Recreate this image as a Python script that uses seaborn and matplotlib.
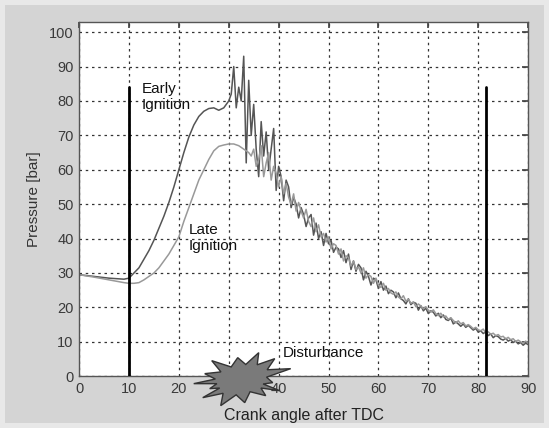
import numpy as np
import pandas as pd
import seaborn as sns
import matplotlib.pyplot as plt
from matplotlib.patches import Polygon

# smooth compression / combustion part
early_x_smooth = [0, 3, 6, 9, 10, 11, 12, 13, 14, 15, 16, 17, 18, 19, 20, 21, 22, 23, 24, 25, 26, 27, 28, 29, 30]
early_y_smooth = [29.5, 29.0, 28.5, 28.2, 28.5, 30, 31.5, 34, 36.5, 39.5, 43, 46.5, 50.5, 55, 60, 65, 69.5, 73, 75.5,
                  77, 77.8, 78, 77.3, 78, 80]
late_x_smooth = [0, 3, 6, 9, 10, 11, 12, 13, 14, 15, 16, 17, 18, 19, 20, 21, 22, 23, 24, 25, 26, 27, 28, 29, 30, 31,
                 32, 33, 33.5]
late_y_smooth = [29.5, 28.8, 28.0, 27.2, 27, 27, 27.2, 28, 29, 30, 31.5, 33.5, 35.5, 38, 40.5, 45, 49, 53, 57, 60, 63,
                 65.5, 66.8, 67.2, 67.5, 67.5, 67, 66, 65.5]

# noisy part, sampled every 0.5 deg (early from 30.5, late from 34)
early_y_noisy = [82, 90, 78, 84, 80, 93, 62, 86, 70, 79,
                 66, 58, 74, 64, 71, 60, 66, 72, 54, 61,
                 58, 51, 57, 55, 49, 52, 50, 46, 49, 47,
                 43.5, 46, 47, 41, 44.5, 40, 42, 38, 41.5, 38.5,
                 39.5, 36, 37.5, 37, 34.5, 36.5, 33, 35.5, 31, 33.5,
                 30.5, 32.5, 31.5, 28, 30.5, 29, 26.5, 28.5, 28, 25.5,
                 27.5, 25, 26.2, 24, 25, 24.5, 22.8, 24.2, 22.5, 22,
                 21, 22.5, 20.8, 21.5, 21.2, 19.2, 20.5, 19, 19.8, 18.2,
                 19, 18.6, 17.5, 18.3, 17, 17.8, 16.5, 16.2, 16.9, 15.2,
                 15.8, 15.2, 14.5, 15.2, 14.2, 14.8, 14.1, 13.4, 13.9, 12.8,
                 13.2, 12.4, 12.9, 11.8, 12.3, 11.2, 11.8, 11.5, 10.8, 10.5,
                 11, 10.2, 10.6, 9.8, 10.2, 9.4, 9.8, 9, 9.6, 9.2]
late_y_noisy = [65, 64, 66, 61, 63, 67, 58, 62, 65, 57,
                61, 59, 55, 58, 53, 56, 52, 50, 53, 48,
                50.5, 48, 46, 48.5, 45, 43.5, 46, 42, 44, 40.5,
                41.5, 39, 40.5, 37, 38.5, 38, 35.5, 37, 33.5, 35,
                34.5, 32, 33.5, 31, 31.8, 30, 31.5, 28.5, 29.5, 29,
                27, 28.5, 26.5, 25.8, 27, 25, 25.5, 24.2, 23.8, 24.5,
                23, 22.5, 23.4, 21.8, 22.4, 21.2, 21.6, 20.2, 21, 20.4,
                19.6, 20.2, 19.2, 18.6, 19.3, 18.2, 17.6, 18.3, 17.2, 17.5,
                16.5, 17, 16.2, 15.5, 16.1, 15.2, 15.6, 14.6, 15, 14.5,
                13.8, 14.2, 13.5, 13.2, 13.7, 12.6, 12.9, 12.2, 12.5, 11.8,
                12.1, 11.4, 11.6, 10.8, 11.3, 10.6, 10.9, 10.1, 10.5, 10,
                9.6, 10.2, 9.7]

early_x = early_x_smooth + list(np.arange(len(early_y_noisy)) * 0.5 + 30.5)
late_x = late_x_smooth + list(np.arange(len(late_y_noisy)) * 0.5 + 34.0)

df = pd.concat([
    pd.DataFrame({"angle": early_x, "pressure": early_y_smooth + early_y_noisy, "curve": "early"}),
    pd.DataFrame({"angle": late_x, "pressure": late_y_smooth + late_y_noisy, "curve": "late"}),
])

marker_angles = [10, 81.5]
marker_top = 84

sns.set_theme(style="white")
plt.rcParams['font.family'] = ['Liberation Sans', 'DejaVu Sans']

fig = plt.figure(figsize=(5.49, 4.28), dpi=100)
fig.patch.set_facecolor("#d4d4d4")
fig.patch.set_edgecolor("#e8e8e8")
fig.patch.set_linewidth(6)
ax = fig.add_axes([0.144, 0.121, 0.818, 0.828])
ax.set_facecolor("white")

sns.lineplot(data=df, x="angle", y="pressure", hue="curve", sort=False, estimator=None,
             palette={"early": "#555555", "late": "#999999"}, linewidth=1.1, legend=False, ax=ax)

for xa in marker_angles:
    ax.plot([xa, xa], [0, marker_top], color="black", linewidth=2, zorder=4)

ax.set_xlim(0, 90)
ax.set_ylim(0, 103)
ax.set_xticks(range(0, 91, 10))
ax.set_yticks(range(0, 101, 10))
ax.grid(True, color="#333333", linestyle=(0, (2, 3)), linewidth=0.9)
ax.tick_params(direction="in", length=4, top=True, right=True, colors="#444444",
               labelsize=10.5, labelcolor="#3a3a3a", pad=4)
for s in ax.spines.values():
    s.set_color("#555555")
    s.set_linewidth(1)

ax.set_xlabel("Crank angle after TDC", fontsize=11.5, color="#222222", labelpad=9)
ax.set_ylabel("Pressure [bar]", fontsize=11, color="#333333", labelpad=6)

ax.text(12.6, 85.5, "Early\nIgnition", fontsize=11, va="top", ha="left", color="#111111", linespacing=1.2)
ax.text(22.0, 44.5, "Late\nIgnition", fontsize=11, va="top", ha="left", color="#111111", linespacing=1.2)
ax.text(40.8, 6.7, "Disturbance", fontsize=11, va="center", ha="left", color="#111111")

# disturbance burst: spike tips as pixel offsets from its centre
px_x = ax.get_position().width * fig.get_figwidth() * fig.dpi / 90
px_y = ax.get_position().height * fig.get_figheight() * fig.dpi / 103
tip_dx = [-30, -4, 17, 33, 49, 31, 38, 24, 3, -21, -39, -32, -48, -37]
tip_dy = [19, 22, 27, 21, 11, -3, -11, -16, -23, -26, -18, -9, -4, 6]
cx, cy = 32.6, -1.0
verts = []
n = len(tip_dx)
for i in range(n):
    j = (i + 1) % n
    verts.append((cx + tip_dx[i] / px_x, cy + tip_dy[i] / px_y))
    verts.append((cx + 0.62 * (tip_dx[i] + tip_dx[j]) / 2 / px_x, cy + 0.62 * (tip_dy[i] + tip_dy[j]) / 2 / px_y))
ax.add_patch(Polygon(verts, closed=True, facecolor="#7a7a7a", edgecolor="#333333",
                     linewidth=1, clip_on=False, zorder=6))

fig.savefig("out.png", dpi=100, facecolor=fig.get_facecolor(), edgecolor=fig.get_edgecolor())
